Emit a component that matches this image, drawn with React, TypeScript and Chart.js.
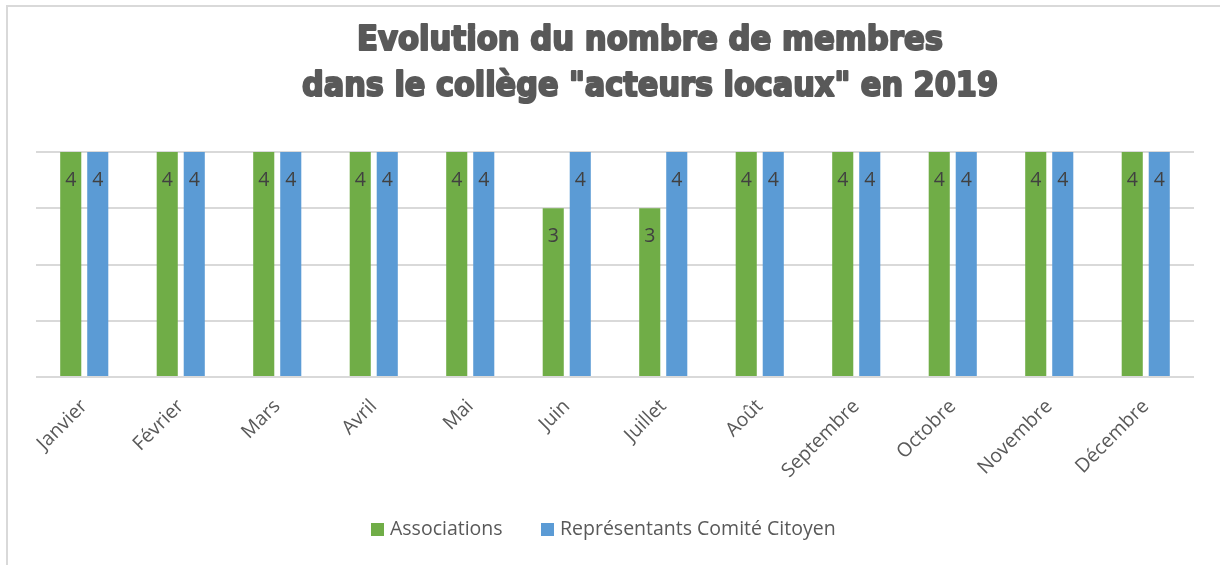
import React, { useEffect, useRef } from "react";
import { Chart, registerables } from "chart.js";

Chart.register(...registerables);

const categories = [
  "Janvier", "Février", "Mars", "Avril", "Mai", "Juin",
  "Juillet", "Août", "Septembre", "Octobre", "Novembre", "Décembre",
];
const associations = [4, 4, 4, 4, 4, 3, 3, 4, 4, 4, 4, 4];
const representants = [4, 4, 4, 4, 4, 4, 4, 4, 4, 4, 4, 4];
const seriesNames = ["Associations", "Représentants Comité Citoyen"];
const seriesColors = ["#70ad47", "#5b9bd5"];
const titleLines = ["Evolution du nombre de membres", 'dans le collège "acteurs locaux" en 2019'];

const TEXT = "#595959";
const FONT = '"Open Sans", "Noto Sans", sans-serif';

const framePlugin = {
  id: "frame",
  beforeDraw(chart: any) {
    const ctx = chart.ctx;
    ctx.save();
    ctx.fillStyle = "#ffffff";
    ctx.fillRect(0, 0, chart.width, chart.height);
    ctx.fillStyle = "#d9d9d9";
    ctx.fillRect(6, 5, 2, chart.height - 5);
    ctx.fillRect(6, 5, chart.width - 6, 2);
    ctx.restore();
  },
};

const titlePlugin = {
  id: "customTitle",
  afterDraw(chart: any) {
    const ctx = chart.ctx;
    ctx.save();
    ctx.fillStyle = TEXT;
    ctx.strokeStyle = TEXT;
    ctx.lineWidth = 2.2;
    ctx.lineJoin = "round";
    ctx.textAlign = "center";
    ctx.textBaseline = "alphabetic";
    ctx.font = 'bold 34px "DejaVu Sans", sans-serif';
    ctx.fillText(titleLines[0], 650, 50, 586);
    ctx.strokeText(titleLines[0], 650, 50, 586);
    ctx.fillText(titleLines[1], 650, 96, 696);
    ctx.strokeText(titleLines[1], 650, 96, 696);
    ctx.restore();
  },
};

const labelPlugin = {
  id: "barLabels",
  afterDatasetsDraw(chart: any) {
    const ctx = chart.ctx;
    ctx.save();
    ctx.fillStyle = "#404040";
    ctx.textAlign = "center";
    ctx.textBaseline = "middle";
    ctx.font = `19.5px ${FONT}`;
    chart.data.datasets.forEach((ds: any, i: number) => {
      const meta = chart.getDatasetMeta(i);
      meta.data.forEach((el: any, j: number) => {
        ctx.fillText(String(ds.data[j]), el.x, el.y + 28);
      });
    });
    ctx.restore();
  },
};

const legendPlugin = {
  id: "customLegend",
  afterDraw(chart: any) {
    const ctx = chart.ctx;
    ctx.save();
    ctx.font = `19.5px ${FONT}`;
    ctx.textBaseline = "middle";
    ctx.textAlign = "left";
    const xs = [371, 541];
    seriesNames.forEach((name, i) => {
      ctx.fillStyle = seriesColors[i];
      ctx.fillRect(xs[i], 523, 13, 13);
      ctx.fillStyle = TEXT;
      ctx.fillText(name, xs[i] + 19, 529);
    });
    ctx.restore();
  },
};

export default function App() {
  const ref = useRef<HTMLCanvasElement | null>(null);
  useEffect(() => {
    if (!ref.current) return;
    const chart = new Chart(ref.current, {
      type: "bar",
      data: {
        labels: categories,
        datasets: [
          {
            label: seriesNames[0],
            data: associations,
            backgroundColor: seriesColors[0],
            categoryPercentage: 0.56,
            barPercentage: 0.78,
          },
          {
            label: seriesNames[1],
            data: representants,
            backgroundColor: seriesColors[1],
            categoryPercentage: 0.56,
            barPercentage: 0.78,
          },
        ],
      },
      options: {
        responsive: false,
        animation: false,
        layout: { padding: { left: 36, right: 26, top: 152, bottom: 0 } },
        plugins: {
          legend: { display: false },
          title: { display: false },
          tooltip: { enabled: false },
        },
        scales: {
          x: {
            grid: { display: false },
            border: { display: false },
            ticks: {
              color: TEXT,
              font: { family: FONT, size: 19.5 },
              minRotation: 45,
              maxRotation: 45,
              padding: 10,
            },
            afterFit(s: any) {
              s.height = 188;
            },
          },
          y: {
            min: 0,
            max: 4,
            ticks: { display: false, stepSize: 1 },
            border: { display: false },
            grid: { color: "#d9d9d9", lineWidth: 2, drawTicks: false },
            afterFit(s: any) {
              s.width = 0;
            },
          },
        },
      },
      plugins: [framePlugin, titlePlugin, labelPlugin, legendPlugin],
    });
    return () => chart.destroy();
  }, []);
  return (
    <div style={{ position: "fixed", left: 0, top: 0, width: 1220, height: 565, background: "#fff" }}>
      <canvas ref={ref} width={1220} height={565} style={{ position: "absolute", left: 0, top: 0 }} />
    </div>
  );
}
